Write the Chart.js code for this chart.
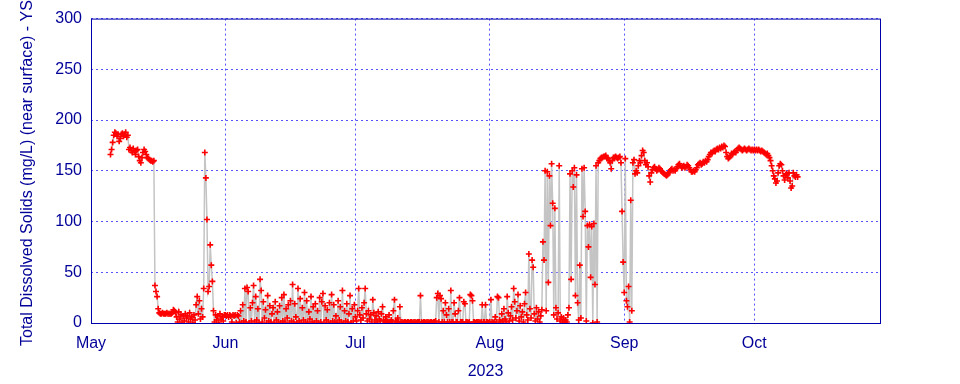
<!DOCTYPE html>
<html>
<head>
<meta charset="utf-8">
<script src="https://cdn.jsdelivr.net/npm/chart.js@4/dist/chart.umd.min.js"></script>
<style>
  body { margin: 0; background: #fff; }
</style>
</head>
<body>
<canvas id="tdsChart" width="960" height="384"></canvas>
<script>
// Eje X: días contados desde el 1 de mayo de 2023
const monthLabels = ['May', 'Jun', 'Jul', 'Aug', 'Sep', 'Oct'];
const monthStarts = [0, 31, 61, 92, 123, 153];
const yTicks = [0, 50, 100, 150, 200, 250, 300];

// Lecturas cada 6 horas; día de la primera lectura de cada bloque
const readingStep = 0.25;
const blockStarts = [4.5, 31, 61, 92, 123, 153];

// Sólidos disueltos totales (mg/L)
const mayTds = [166, 171, 178, 185, 188, 187, 184, 186, 179, 182, 186, 187, 184, 186, 188, 183, 185,
  171, 173, 170, 168, 172, 169, 166, 170, 171, 164, 160, 158, 163, 168, 171, 169, 166,
  163, 162, 161, 160, 160, 159, 160, 37, 31, 26, 14,
  10, 9, 9, 10, 9, 9, 9, 10, 9, 9, 9, 9, 10, 13, 12, 10,
  6, 1, 11, 4, 8, 0, 7, 2, 9, 5, 7, 1, 10, 4, 6, 0, 8, 3,
  18, 26, 9, 22, 4, 14, 6,
  34, 168, 143, 102, 31, 36, 77, 57, 41,
  12, 1, 8, 3, 7, 0, 9, 4, 6, 2, 8];

const junTds = [8, 7, 8, 6, 8, 7, 1, 8, 7, 8, 0, 8, 7,
  1, 12, 0, 18, 2, 34, 1, 35, 31, 0, 15, 2, 20, 37, 1, 26, 3, 14, 0, 43,
  32, 1, 21, 5, 13, 0, 27, 2, 17, 1, 9, 15, 0, 21, 3, 11, 1, 17, 0, 25,
  2, 28, 1, 14, 5, 18, 0, 22, 2, 38, 1, 19, 6, 0, 34, 2, 24, 0, 15, 3,
  30, 1, 22, 0, 11, 4, 26, 1, 16, 0, 19, 2, 12, 0, 25, 1, 21, 29, 0, 17,
  3, 13, 1, 20, 0, 28, 2, 18, 1, 7, 0, 22, 3, 16, 1, 32, 0, 12, 2, 19,
  1, 9, 27, 0, 14, 2, 18];

const julTds = [6, 2, 12, 34, 8, 3, 15, 5, 20, 34, 9, 2, 12, 4, 8, 1, 23, 10, 3, 7,
  1, 11, 4, 2, 9, 16, 3, 1, 6, 2, 1, 8, 1, 3, 1, 12, 23, 2, 1, 5, 1, 16,
  1, 1, 0, 1, 1, 0, 1, 1, 0, 1, 1, 0, 1, 1, 0, 1, 1, 1, 27, 1,
  0, 1, 1, 0, 1, 1, 0, 1, 1, 0, 1, 1, 2,
  25, 29, 1, 27, 24, 1, 12, 1, 20, 8, 1, 14, 1, 32, 1, 1, 20, 9, 1, 1,
  12, 25, 1, 1, 1, 21, 19, 1, 1, 0, 1, 28, 27, 22, 1, 1, 0, 1, 1, 1,
  0, 1, 18, 1, 1, 18, 1, 1, 0];

const augTds = [1, 23, 1, 0, 1, 6, 1, 26, 25, 3, 1, 9, 2, 14, 4, 1, 26, 10, 2, 7,
  16, 3, 34, 21, 5, 12, 28, 2, 17, 6, 11, 1, 19, 30, 8, 3, 68, 14, 5, 62,
  55, 9, 2, 15, 4, 11, 1, 7, 13,
  80, 62, 150, 12, 149, 40, 145, 96, 157, 118, 8, 113, 15, 4, 10, 155, 2, 6, 1, 5, 1, 3, 1, 8, 15,
  147, 43, 150, 134, 153, 27, 146, 20, 3, 57, 5, 152, 105, 153, 110, 2, 96, 75, 97, 45,
  95, 0, 98, 38, 155, 1, 158, 160, 162,
  163, 163, 164, 164, 165, 163, 162, 160, 158, 152, 160, 163, 163, 164, 163, 162,
  163, 164, 158, 110, 60];

const sepTds = [30, 162, 22, 16, 36, 1, 121, 12, 158, 161,
  147, 150, 148, 155, 160, 158, 165, 170, 168, 160,
  156, 158, 154, 145, 139, 148, 151, 153, 154, 152,
  150, 151, 153, 152, 150, 149, 148, 147, 146, 145,
  146, 148, 149, 151, 152, 150, 151, 150, 152, 154,
  156, 157, 155, 153, 154, 155, 153, 154, 156, 155,
  153, 151, 149, 149, 150, 149, 151, 153, 156, 157,
  158, 156, 157, 159, 158, 160, 159, 161, 164, 166,
  168, 167, 169, 170, 169, 171, 172, 171, 173, 172,
  174, 173, 175, 174, 168, 164, 162, 163, 165, 167,
  166, 168, 169, 168, 170, 172, 173, 172, 171, 170,
  171, 172, 171, 170, 171, 172, 171, 170, 171, 170];

const octTds = [171, 170, 171, 170, 171, 170, 169, 170, 169, 168,
  167, 166, 167, 165, 163, 160, 155, 150, 145, 142,
  138, 140, 148, 155, 157, 156, 150, 145, 141, 146,
  147, 143, 148, 140, 133, 135, 148, 145, 144, 146, 144];

const blocks = [mayTds, junTds, julTds, augTds, sepTds, octTds];

// Construir los puntos {x: día, y: valor}
const points = [];
blocks.forEach((vals, k) => {
  vals.forEach((v, i) => {
    points.push({ x: blockStarts[k] + i * readingStep, y: v });
  });
});

const axisBlue = '#000099';
const gridBlue = '#5555ff';

// Marco completo alrededor del área del gráfico
const framePlugin = {
  id: 'frame',
  afterDraw(chart) {
    const { ctx, chartArea: a } = chart;
    ctx.save();
    ctx.strokeStyle = '#0000aa';
    ctx.lineWidth = 1;
    ctx.strokeRect(a.left + 0.5, a.top + 0.5, a.right - a.left, a.bottom - a.top);
    ctx.restore();
  }
};

const ctx = document.getElementById('tdsChart').getContext('2d');
new Chart(ctx, {
  type: 'line',
  data: {
    datasets: [{
      data: points,
      borderColor: '#c4c4c4',
      borderWidth: 1.5,
      pointStyle: 'cross',
      pointRadius: 3,
      pointBorderColor: '#ff0000',
      pointBorderWidth: 1.6,
      pointBackgroundColor: '#ff0000',
      tension: 0
    }]
  },
  options: {
    responsive: false,
    animation: false,
    parsing: false,
    layout: { padding: { top: 18, right: 80, left: 0, bottom: 0 } },
    plugins: {
      legend: { display: false },
      tooltip: { enabled: false }
    },
    scales: {
      x: {
        type: 'linear',
        min: 0,
        max: 182,
        afterBuildTicks: (scale) => { scale.ticks = monthStarts.map(v => ({ value: v })); },
        afterFit: (scale) => { scale.height = 61; },
        ticks: {
          color: axisBlue,
          font: { family: 'Liberation Sans', size: 16 },
          padding: 11,
          maxRotation: 0,
          callback: (value) => monthLabels[monthStarts.indexOf(value)]
        },
        grid: { color: gridBlue, lineWidth: 1, drawTicks: false },
        border: { display: false, dash: [2, 3] },
        title: {
          display: true,
          text: '2023',
          color: axisBlue,
          font: { family: 'Liberation Sans', size: 16 },
          padding: { top: 0, bottom: 3 }
        }
      },
      y: {
        min: 0,
        max: 300,
        afterBuildTicks: (scale) => { scale.ticks = yTicks.map(v => ({ value: v })); },
        afterFit: (scale) => { scale.width = 91; },
        ticks: {
          color: axisBlue,
          font: { family: 'Liberation Sans', size: 16 },
          padding: 9
        },
        grid: { color: gridBlue, lineWidth: 1, drawTicks: false },
        border: { display: false, dash: [2, 3] },
        title: {
          display: true,
          text: 'Total Dissolved Solids (mg/L) (near surface) - YSI',
          color: axisBlue,
          font: { family: 'Liberation Sans', size: 16 },
          padding: { top: 18, bottom: 0 }
        }
      }
    }
  },
  plugins: [framePlugin]
});
</script>
</body>
</html>
